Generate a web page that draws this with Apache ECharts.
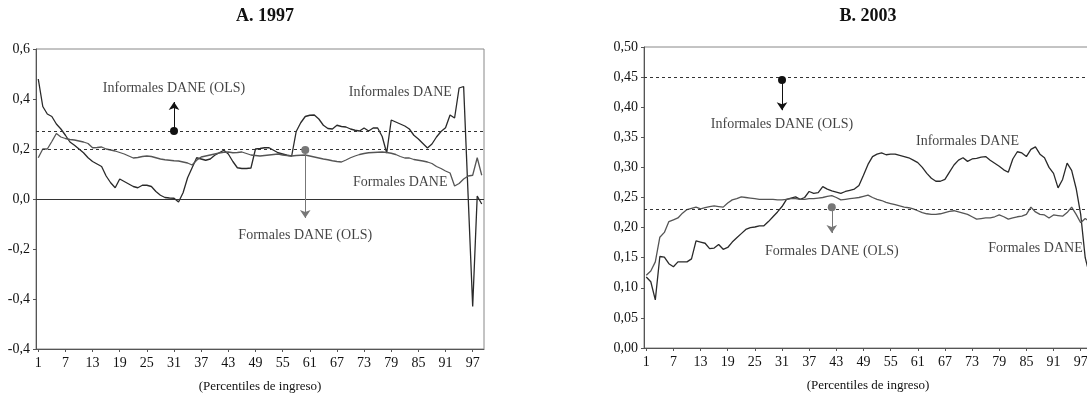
<!DOCTYPE html>
<html>
<head>
<meta charset="utf-8">
<script src="https://cdn.jsdelivr.net/npm/echarts@6/dist/echarts.min.js"></script>
<style>
  html, body { margin: 0; padding: 0; background: #fff; }
  #chart { width: 1087px; height: 394px; }
</style>
</head>
<body>
<div id="chart"></div>
<script>
// percentiles de ingreso 1..99
const percentiles = Array.from({ length: 99 }, (_, i) => String(i + 1));

// A. 1997
const informales1997 = [
  0.48, 0.37, 0.34, 0.33, 0.30, 0.28, 0.255, 0.228, 0.215, 0.20,
  0.185, 0.165, 0.15, 0.14, 0.13, 0.092, 0.065, 0.045, 0.08, 0.07,
  0.06, 0.05, 0.045, 0.055, 0.055, 0.05, 0.03, 0.015, 0.006, 0.004,
  0.003, -0.012, 0.025, 0.085, 0.125, 0.165, 0.16, 0.155, 0.16, 0.175,
  0.185, 0.195, 0.18, 0.15, 0.125, 0.122, 0.122, 0.124, 0.20, 0.202,
  0.205, 0.205, 0.195, 0.185, 0.18, 0.175, 0.172, 0.27, 0.305, 0.33,
  0.335, 0.336, 0.32, 0.295, 0.282, 0.28, 0.295, 0.29, 0.288, 0.28,
  0.275, 0.272, 0.284, 0.272, 0.284, 0.284, 0.25, 0.184, 0.316, 0.308,
  0.30, 0.292, 0.28, 0.255, 0.24, 0.222, 0.204, 0.22, 0.248, 0.27,
  0.285, 0.336, 0.324, 0.444, 0.45, 0.01, -0.43, 0.012, -0.02
];
const formales1997 = [
  0.165, 0.20, 0.20, 0.23, 0.262, 0.248, 0.242, 0.238, 0.236, 0.232,
  0.228, 0.222, 0.205, 0.206, 0.208, 0.20, 0.196, 0.192, 0.186, 0.18,
  0.172, 0.164, 0.166, 0.17, 0.172, 0.17, 0.165, 0.16, 0.157, 0.155,
  0.153, 0.152, 0.148, 0.144, 0.136, 0.155, 0.168, 0.172, 0.176, 0.18,
  0.184, 0.187, 0.188, 0.185, 0.186, 0.188, 0.182, 0.176, 0.174, 0.172,
  0.174, 0.176, 0.178, 0.18, 0.176, 0.174, 0.172, 0.174, 0.175, 0.176,
  0.172, 0.168, 0.164, 0.16, 0.157, 0.153, 0.15, 0.148, 0.156, 0.165,
  0.172, 0.178, 0.182, 0.185, 0.186, 0.187, 0.188, 0.186, 0.183, 0.178,
  0.17, 0.164, 0.164, 0.158, 0.155, 0.152, 0.148, 0.142, 0.13, 0.122,
  0.112, 0.104, 0.052, 0.062, 0.08, 0.092, 0.095, 0.165, 0.095
];
const olsInformales1997 = 0.272;
const olsFormales1997 = 0.196;

// B. 2003
const informales2003 = [
  0.118, 0.11, 0.08, 0.152, 0.151, 0.14, 0.135, 0.143, 0.143, 0.143,
  0.148, 0.178, 0.176, 0.174, 0.165, 0.166, 0.172, 0.164, 0.167, 0.176,
  0.183, 0.19, 0.197, 0.20, 0.201, 0.203, 0.203, 0.21, 0.218, 0.226,
  0.235, 0.247, 0.249, 0.251, 0.247, 0.25, 0.26, 0.257, 0.258, 0.268,
  0.264, 0.261, 0.259, 0.257, 0.26, 0.262, 0.264, 0.27, 0.287, 0.305,
  0.318, 0.322, 0.324, 0.321, 0.322, 0.322, 0.32, 0.318, 0.316, 0.312,
  0.308, 0.30, 0.29, 0.282, 0.277, 0.277, 0.28, 0.292, 0.304, 0.312,
  0.316, 0.31, 0.314, 0.315, 0.317, 0.318, 0.312, 0.307, 0.302, 0.296,
  0.292, 0.314, 0.326, 0.324, 0.318, 0.33, 0.334, 0.322, 0.316, 0.30,
  0.29, 0.266, 0.28, 0.307, 0.295, 0.265, 0.222, 0.15, 0.12
];
const formales2003 = [
  0.121, 0.128, 0.143, 0.184, 0.192, 0.21, 0.213, 0.216, 0.224, 0.23,
  0.232, 0.234, 0.231, 0.233, 0.235, 0.236, 0.235, 0.234, 0.241, 0.246,
  0.248, 0.251, 0.25, 0.249, 0.248, 0.247, 0.247, 0.247, 0.247, 0.246,
  0.246, 0.247, 0.248, 0.248, 0.247, 0.247, 0.248, 0.248, 0.249, 0.25,
  0.252, 0.253, 0.25, 0.246, 0.247, 0.248, 0.249, 0.25, 0.252, 0.254,
  0.25, 0.247, 0.245, 0.242, 0.24, 0.238, 0.236, 0.234, 0.233, 0.231,
  0.228, 0.225, 0.223, 0.222, 0.222, 0.223, 0.225, 0.227, 0.228, 0.226,
  0.224, 0.222, 0.218, 0.214, 0.215, 0.216, 0.216, 0.218, 0.221, 0.218,
  0.214, 0.216, 0.218, 0.219, 0.222, 0.234, 0.226, 0.222, 0.221, 0.216,
  0.221, 0.22, 0.219, 0.225, 0.234, 0.222, 0.208, 0.215, 0.21
];
const olsInformales2003 = 0.445;
const olsFormales2003 = 0.234;

const yLabels1997 = ['-0,4', '-0,4', '-0,2', '0,0', '0,2', '0,4', '0,6'];
const yLabels2003 = ['0,00', '0,05', '0,10', '0,15', '0,20', '0,25', '0,30', '0,35', '0,40', '0,45', '0,50'];

// anotaciones: [texto, percentil, valor]
const notes1997 = [
  ['Informales DANE (OLS)', '31', 0.444],
  ['Informales DANE', '81', 0.428],
  ['Formales DANE', '81', 0.068],
  ['Formales DANE (OLS)', '60', -0.144]
];
const notes2003 = [
  ['Informales DANE (OLS)', '31', 0.372],
  ['Informales DANE', '72', 0.343],
  ['Formales DANE', '87', 0.166],
  ['Formales DANE (OLS)', '42', 0.161]
];
// flechas: [percentil, desde, hasta, color]
const arrows1997 = [['31', olsInformales1997, 0.388, '#111'], ['60', olsFormales1997, -0.076, '#777']];
const arrows2003 = [['31', olsInformales2003, 0.395, '#111'], ['42', olsFormales2003, 0.191, '#777']];

const FONT = '"Liberation Serif", "DejaVu Serif", serif';

const chart = echarts.init(document.getElementById('chart'));

const xAxisFor = (gridIndex) => ({
  type: 'category',
  gridIndex,
  data: percentiles,
  boundaryGap: true,
  name: '(Percentiles de ingreso)',
  nameLocation: 'middle',
  nameGap: 31,
  nameTextStyle: { fontFamily: FONT, fontSize: 13, color: '#111' },
  axisLine: { show: true, onZero: false, lineStyle: { color: '#555' } },
  axisTick: { show: true, alignWithLabel: true, interval: 5, length: 3, lineStyle: { color: '#555' } },
  axisLabel: { interval: 5, fontFamily: FONT, fontSize: 14, color: '#111', margin: 7 },
  splitLine: { show: false }
});

const yAxisFor = (gridIndex, min, max, interval, labels) => ({
  type: 'value',
  gridIndex,
  min, max, interval,
  axisLine: { show: true, lineStyle: { color: '#555' } },
  axisTick: { show: true, length: 3, lineStyle: { color: '#555' } },
  axisLabel: {
    fontFamily: FONT, fontSize: 14, color: '#111', margin: 6,
    formatter: (v) => labels[Math.round((v - min) / interval)]
  },
  splitLine: { show: false }
});

const lineSeries = (name, data, idx, color) => ({
  name,
  type: 'line',
  xAxisIndex: idx,
  yAxisIndex: idx,
  data,
  symbol: 'none',
  lineStyle: { color, width: 1.3 },
  z: 3
});

const refLines = (idx, values, zeroLine) => ({
  type: 'line',
  xAxisIndex: idx,
  yAxisIndex: idx,
  data: [],
  markLine: {
    silent: true,
    symbol: 'none',
    label: { show: false },
    data: values.map(v => ({ yAxis: v, lineStyle: { type: [3, 3], color: '#333', width: 1 } }))
      .concat(zeroLine ? [{ yAxis: 0, lineStyle: { type: 'solid', color: '#333', width: 1 } }] : [])
  }
});

const notesSeries = (idx, notes, arrows) => ({
  type: 'scatter',
  xAxisIndex: idx,
  yAxisIndex: idx,
  symbolSize: 0,
  data: notes.map(n => ({ value: [n[1], n[2]], name: n[0] })),
  label: {
    show: true,
    position: 'inside',
    formatter: (p) => p.name,
    fontFamily: FONT,
    fontSize: 14,
    color: '#111'
  },
  markLine: {
    silent: true,
    symbol: ['circle', 'arrow'],
    symbolSize: [8, 8],
    label: { show: false },
    data: arrows.map(a => [
      { coord: [a[0], a[1]], lineStyle: { color: a[3], width: 1, type: 'solid' }, itemStyle: { color: a[3] } },
      { coord: [a[0], a[2]] }
    ])
  },
  z: 5
});

chart.setOption({
  animation: false,
  title: [
    { text: 'A. 1997', left: 260, top: 2, textAlign: 'center',
      textStyle: { fontFamily: FONT, fontSize: 18, fontWeight: 'bold', color: '#111' } },
    { text: 'B. 2003', left: 863, top: 2, textAlign: 'center',
      textStyle: { fontFamily: FONT, fontSize: 18, fontWeight: 'bold', color: '#111' } }
  ],
  grid: [
    { left: 36, top: 49, width: 448, height: 300, containLabel: false, outerBoundsMode: 'none',
      show: true, borderColor: '#888', borderWidth: 1 },
    { left: 644, top: 47, width: 448, height: 301, containLabel: false, outerBoundsMode: 'none',
      show: true, borderColor: '#888', borderWidth: 1 }
  ],
  xAxis: [xAxisFor(0), xAxisFor(1)],
  yAxis: [
    yAxisFor(0, -0.6, 0.6, 0.2, yLabels1997),
    yAxisFor(1, 0, 0.5, 0.05, yLabels2003)
  ],
  series: [
    refLines(0, [olsInformales1997, olsFormales1997], true),
    lineSeries('Informales DANE', informales1997, 0, '#2a2a2a'),
    lineSeries('Formales DANE', formales1997, 0, '#555'),
    notesSeries(0, notes1997, arrows1997),
    refLines(1, [olsInformales2003, olsFormales2003], false),
    lineSeries('Informales DANE', informales2003, 1, '#2a2a2a'),
    lineSeries('Formales DANE', formales2003, 1, '#555'),
    notesSeries(1, notes2003, arrows2003)
  ]
});
</script>
</body>
</html>
